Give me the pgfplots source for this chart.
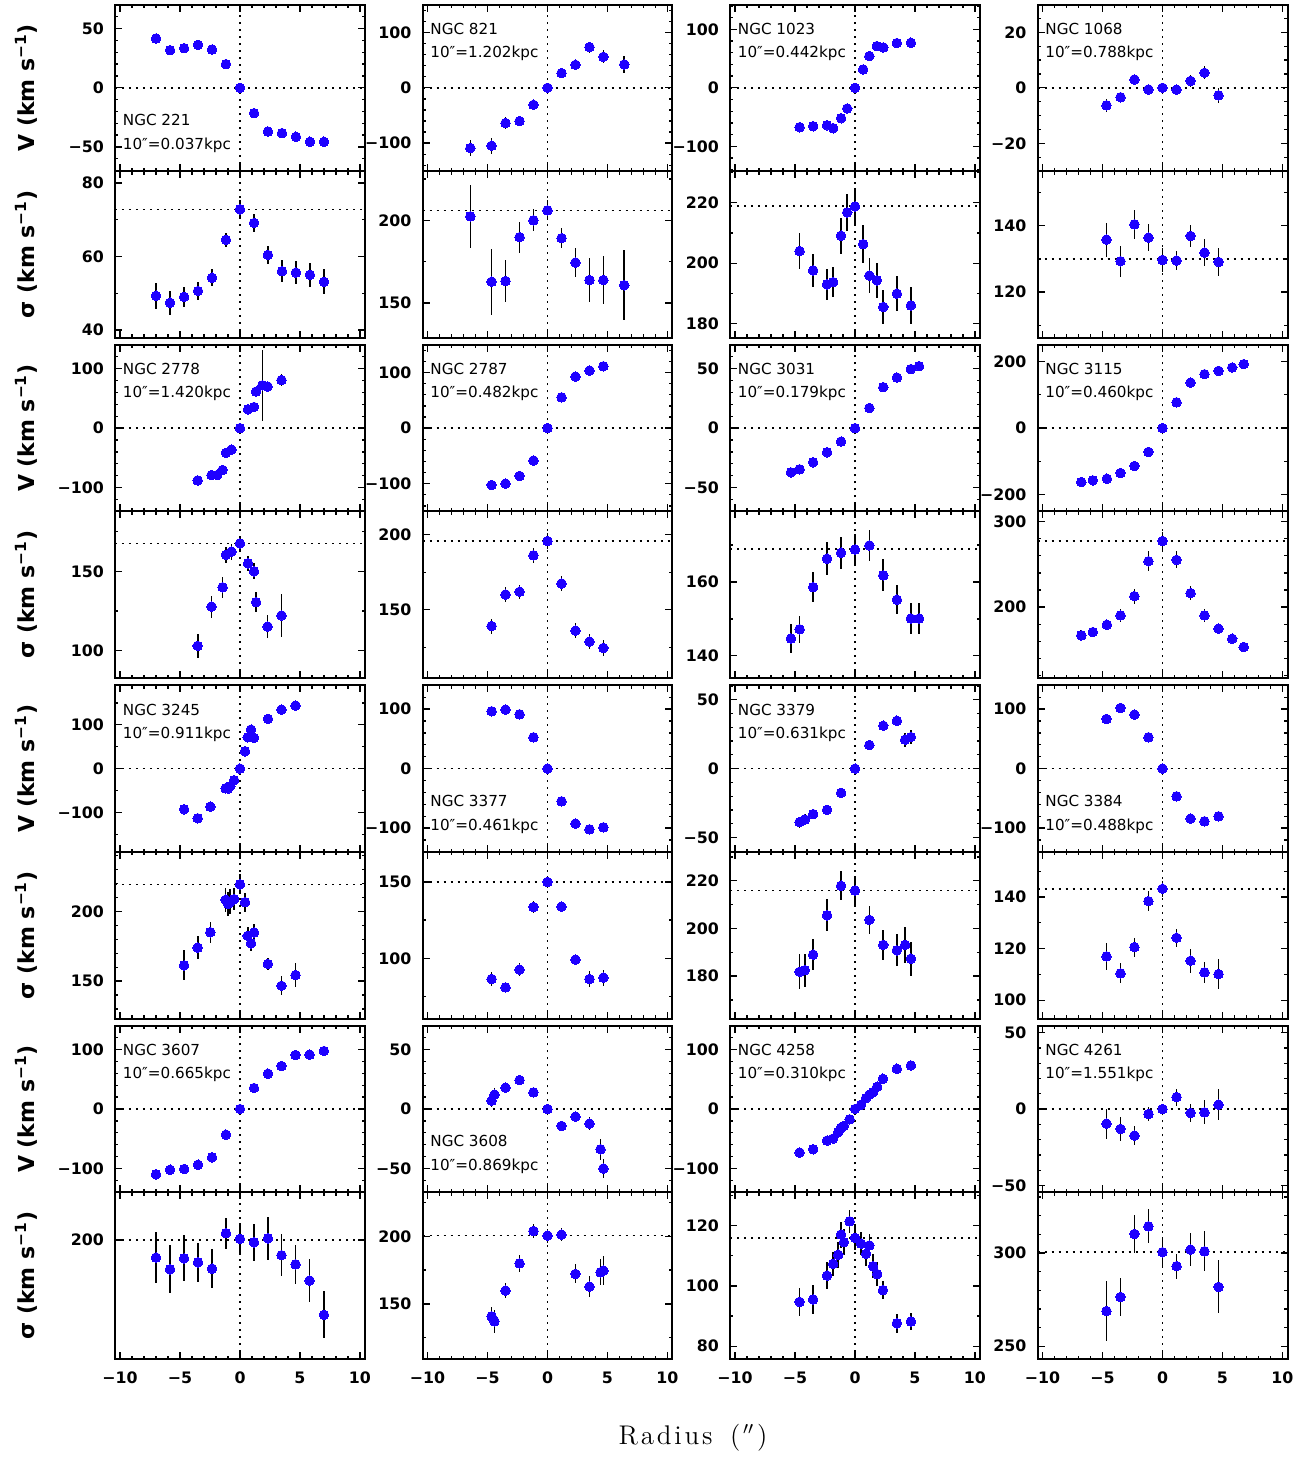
\documentclass[border=0pt]{standalone}
\usepackage{fontspec}
\setsansfont{DejaVu Sans}
\usepackage{pgfplots}
\pgfplotsset{compat=1.18}
\definecolor{dotblue}{RGB}{30,0,255}
\newcommand\tickfnt{\sffamily\bfseries\fontsize{7.9}{8}\selectfont}
\newcommand\labfnt{\sffamily\bfseries\fontsize{11}{12}\selectfont}
\newcommand\annfnt{\sffamily\fontsize{7.6}{8}\selectfont}
\pgfplotsset{
 panel/.style={scale only axis, width=125pt, height=83.3pt, anchor=north west,
  xmin=-10.42, xmax=10.42, xtick={-10,-5,0,5,10}, minor xtick={-10,-9,...,10}, xticklabels={},
  xtick pos=both, ytick pos=both, xticklabel pos=lower, yticklabel pos=left,
  tick align=inside, major tick length=3.5pt, minor tick length=1.7pt,
  axis line style={line width=1pt},
  every tick/.append style={line width=0.65pt, black},
  tick label style={font=\tickfnt},
  yticklabel style={xshift=-2pt}, xticklabel style={yshift=-3pt}},
 bottom/.style={xticklabels={−10,−5,0,5,10}},
 lefty/.style={ylabel={#1}, every axis y label/.style={at={(axis description cs:-0.356,0.5)}, rotate=90, anchor=center, font=\labfnt}},
 dots/.style={only marks, color=dotblue, mark=*, mark size=2.4pt, mark options={draw=dotblue, line width=0pt, fill=dotblue}},
 ebars/.style={draw=none, mark=none, error bars/.cd, y dir=both, y explicit, error mark=none,
  error bar style={draw=black, line width=0.85pt, solid}},
}
\tikzset{dotl/.style={black, line width=0.8pt, dash pattern=on 1pt off 2.5pt}}
\newcommand\series[1]{%
 \addplot[dots] table[row sep=\\, x index=0, y index=1] {#1};
 \addplot[ebars] table[row sep=\\, x index=0, y index=1, y error index=2] {#1};}
\newcommand\vdot{\draw[dotl] ({axis cs:0,0}|-{rel axis cs:0,0}) -- ({axis cs:0,0}|-{rel axis cs:0,1});}
\newcommand\hdot[1]{\draw[dotl] ({rel axis cs:0,0}|-{axis cs:0,#1}) -- ({rel axis cs:1,0}|-{axis cs:0,#1});}
\newcommand\labUL[2]{\node[anchor=west, inner sep=0pt, font=\annfnt] at (axis description cs:0.03,0.853) {#1};
 \node[anchor=west, inner sep=0pt, font=\annfnt] at (axis description cs:0.03,0.706) {#2};}
\newcommand\labLL[2]{\node[anchor=west, inner sep=0pt, font=\annfnt] at (axis description cs:0.03,0.306) {#1};
 \node[anchor=west, inner sep=0pt, font=\annfnt] at (axis description cs:0.03,0.156) {#2};}
\newcommand\Vlab{V (km s\textsuperscript{−1})}
\newcommand\Slab{σ (km s\textsuperscript{−1})}
\newcommand\ls{\kern1.4pt}

\begin{document}
\begin{tikzpicture}
\path[use as bounding box] (0,0) rectangle (655pt,-729pt);

% ---------------- row 1 ----------------
\begin{axis}[panel, at={(57.5pt,-2.25pt)}, ymin=-70.4, ymax=70.4, ytick={-50,0,50}, yticklabels={−50,0,50}, minor ytick={-70,-60,...,70}, lefty=\Vlab]
\vdot \hdot{0}
\series{-7 41.7 2 \\ -5.83 31.8 2 \\ -4.66 33.5 2 \\ -3.5 36.3 2 \\ -2.33 32.4 2 \\ -1.17 20.0 2 \\ 0 0 2 \\ 1.17 -21.4 2 \\ 2.33 -36.9 2 \\ 3.5 -38.3 2 \\ 4.66 -41.4 2 \\ 5.83 -45.6 2 \\ 7 -45.6 2 \\}
\labLL{NGC 221}{10″=0.037kpc}
\end{axis}
\begin{axis}[panel, at={(57.5pt,-85.55pt)}, ymin=37.9, ymax=83.2, ytick={40,60,80}, yticklabels={40,60,80}, minor ytick={40,50,...,80}, lefty=\Slab]
\vdot \hdot{72.8}
\series{-7 49.3 3.5 \\ -5.83 47.4 3.2 \\ -4.66 49.0 2.7 \\ -3.5 50.6 2.4 \\ -2.33 54.2 2.3 \\ -1.17 64.5 2.0 \\ 0 72.8 2.6 \\ 1.17 69.1 2.4 \\ 2.33 60.4 2.5 \\ 3.5 56.0 2.9 \\ 4.66 55.6 3.2 \\ 5.83 55.0 3.2 \\ 7 53.1 3.4 \\}
\end{axis}

\begin{axis}[panel, at={(211.25pt,-2.25pt)}, ymin=-150.6, ymax=150.6, ytick={-100,0,100}, yticklabels={−100,0,100}, minor ytick={-140,-120,...,140}]
\vdot \hdot{0}
\series{-6.43 -109 15 \\ -4.66 -104.8 14 \\ -3.5 -63.9 11 \\ -2.33 -60.2 8.5 \\ -1.17 -30.7 7 \\ 0 0 4 \\ 1.17 26.5 7 \\ 2.33 41.6 6.6 \\ 3.5 73.5 10 \\ 4.66 56.0 12 \\ 6.4 42.2 15.7 \\}
\labUL{NGC 821}{10″=1.202kpc}
\end{axis}
\begin{axis}[panel, at={(211.25pt,-85.55pt)}, ymin=129.1, ymax=229.7, ytick={150,200}, yticklabels={150,200}, minor ytick={125,150,...,225}]
\vdot \hdot{206}
\series{-6.43 202.4 19 \\ -4.66 162.9 20 \\ -3.5 163.3 12.5 \\ -2.33 189.8 9.3 \\ -1.17 200 6.6 \\ 0 206 6 \\ 1.17 189.2 6 \\ 2.33 174.5 8.5 \\ 3.5 163.9 13.3 \\ 4.66 163.9 14.3 \\ 6.4 160.8 21 \\}
\end{axis}

\begin{axis}[panel, at={(365pt,-2.25pt)}, ymin=-142.5, ymax=142.5, ytick={-100,0,100}, yticklabels={−100,0,100}, minor ytick={-140,-120,...,140}]
\vdot \hdot{0}
\series{-4.62 -67.4 3 \\ -3.49 -65.7 3 \\ -2.33 -64 3 \\ -1.82 -69.1 3 \\ -1.16 -52 3 \\ -0.65 -35.4 3 \\ 0 0 3 \\ 0.68 31.4 3 \\ 1.2 54.3 3 \\ 1.82 71.4 3 \\ 2.36 69.1 3 \\ 3.49 76.6 3 \\ 4.66 77.1 3 \\}
\labUL{NGC 1023}{10″=0.442kpc}
\end{axis}
\begin{axis}[panel, at={(365pt,-85.55pt)}, ymin=175.3, ymax=230.5, ytick={180,200,220}, yticklabels={180,200,220}, minor ytick={180,190,...,230}]
\vdot \hdot{218.9}
\series{-4.62 204.0 5.9 \\ -3.49 197.6 5.4 \\ -2.33 193.0 5.2 \\ -1.82 193.7 5 \\ -1.16 209.1 5.9 \\ -0.65 216.8 6.2 \\ 0 218.8 6.2 \\ 0.68 206.3 6.2 \\ 1.2 195.9 5.9 \\ 1.82 194.3 5.7 \\ 2.36 185.5 5.5 \\ 3.49 189.9 5.9 \\ 4.66 186.0 6.2 \\}
\end{axis}

\begin{axis}[panel, at={(518.75pt,-2.25pt)}, ymin=-30, ymax=30, ytick={-20,0,20}, yticklabels={−20,0,20}, minor ytick={-30,-25,...,30}]
\vdot \hdot{0}
\series{-4.67 -6.3 2.3 \\ -3.5 -3.4 2.0 \\ -2.34 3.0 1.8 \\ -1.17 -0.6 1.2 \\ 0 0 1 \\ 1.17 -0.7 1.2 \\ 2.34 2.5 2.2 \\ 3.5 5.4 2.3 \\ 4.67 -2.7 2.6 \\}
\labUL{NGC 1068}{10″=0.788kpc}
\end{axis}
\begin{axis}[panel, at={(518.75pt,-85.55pt)}, ymin=106.3, ymax=156.4, ytick={120,140}, yticklabels={120,140}, minor ytick={110,120,...,150}]
\vdot \hdot{129.9}
\series{-4.67 135.8 5.1 \\ -3.5 129.3 4.7 \\ -2.34 140.4 4.3 \\ -1.17 136.4 4 \\ 0 129.7 3.5 \\ 1.17 129.5 2.9 \\ 2.34 136.9 3.2 \\ 3.5 131.9 4 \\ 4.67 129.1 4.2 \\}
\end{axis}

% ---------------- row 2 ----------------
\begin{axis}[panel, at={(57.5pt,-172.4pt)}, ymin=-140, ymax=140, ytick={-100,0,100}, yticklabels={−100,0,100}, minor ytick={-140,-120,...,140}, lefty=\Vlab]
\vdot \hdot{0}
\series{-3.53 -87.9 4 \\ -2.37 -78.9 4 \\ -1.91 -78.9 4 \\ -1.45 -70.4 4 \\ -1.17 -41.7 4 \\ -0.71 -36.1 4 \\ 0 0 4 \\ 0.67 31.5 4 \\ 1.17 35.5 4 \\ 1.34 61.4 4 \\ 1.87 72 60 \\ 2.3 69.9 4 \\ 3.46 80.6 9.6 \\}
\labUL{NGC 2778}{10″=1.420kpc}
\end{axis}
\begin{axis}[panel, at={(57.5pt,-255.7pt)}, ymin=82.6, ymax=187.8, ytick={100,150}, yticklabels={100,150}, minor ytick={100,125,...,175}, lefty=\Slab]
\vdot \hdot{167.6}
\series{-3.53 102.9 7.6 \\ -2.37 127.7 7 \\ -1.45 139.9 6.5 \\ -1.17 160.3 4.8 \\ -0.71 162.4 5 \\ 0 167.6 4.9 \\ 0.67 155.0 4.7 \\ 1.17 150.0 5 \\ 1.34 130.5 6.4 \\ 2.3 115.1 7.4 \\ 3.46 122.1 13.7 \\}
\end{axis}

\begin{axis}[panel, at={(211.25pt,-172.4pt)}, ymin=-150, ymax=150, ytick={-100,0,100}, yticklabels={−100,0,100}, minor ytick={-140,-120,...,140}]
\vdot \hdot{0}
\series{-4.66 -102.4 3 \\ -3.5 -100 3 \\ -2.33 -86.1 3 \\ -1.17 -58.4 3 \\ 0 0 3 \\ 1.17 55.4 3 \\ 2.33 92.8 3 \\ 3.5 103.6 3 \\ 4.66 111.4 3 \\}
\labUL{NGC 2787}{10″=0.482kpc}
\end{axis}
\begin{axis}[panel, at={(211.25pt,-255.7pt)}, ymin=104.6, ymax=215.5, ytick={150,200}, yticklabels={150,200}, minor ytick={125,150,...,200}]
\vdot \hdot{196}
\series{-4.66 139.2 5 \\ -3.5 160.2 5 \\ -2.33 162.0 4.6 \\ -1.17 186.3 5 \\ 0 195.8 5.5 \\ 1.17 167.5 4.8 \\ 2.33 136.1 5 \\ 3.5 128.8 5 \\ 4.66 124.6 5.3 \\}
\end{axis}

\begin{axis}[panel, at={(365pt,-172.4pt)}, ymin=-70, ymax=70, ytick={-50,0,50}, yticklabels={−50,0,50}, minor ytick={-70,-60,...,70}]
\vdot \hdot{0}
\series{-5.34 -37.2 1.5 \\ -4.62 -34.6 1.5 \\ -3.49 -28.7 1.5 \\ -2.33 -20.3 1.5 \\ -1.16 -11.3 1.5 \\ 0 0 1.5 \\ 1.2 16.9 1.5 \\ 2.36 34.4 1.5 \\ 3.49 42.5 1.5 \\ 4.66 49.6 1.5 \\ 5.34 52.1 1.5 \\}
\labUL{NGC 3031}{10″=0.179kpc}
\end{axis}
\begin{axis}[panel, at={(365pt,-255.7pt)}, ymin=134, ymax=179.1, ytick={140,160}, yticklabels={140,160}, minor ytick={140,150,...,170}]
\vdot \hdot{168.9}
\series{-5.34 144.7 4 \\ -4.62 147.2 3.7 \\ -3.49 158.6 4.1 \\ -2.33 166.3 4.4 \\ -1.16 167.9 4.4 \\ 0 168.8 4.1 \\ 1.2 169.9 4.1 \\ 2.36 161.8 4.3 \\ 3.49 155.2 4 \\ 4.66 150.1 4.1 \\ 5.34 150.1 4.1 \\}
\end{axis}

\begin{axis}[panel, at={(518.75pt,-172.4pt)}, ymin=-250, ymax=250, ytick={-200,0,200}, yticklabels={−200,0,200}, minor ytick={-200,-100,...,200}]
\vdot \hdot{0}
\series{-6.77 -161.8 5 \\ -5.81 -156.8 5 \\ -4.64 -151.8 5 \\ -3.5 -134.7 5 \\ -2.34 -113.6 5 \\ -1.17 -71.4 5 \\ 0 0 5 \\ 1.17 77.4 5 \\ 2.34 136.7 5 \\ 3.5 161.8 5 \\ 4.67 171.9 5 \\ 5.81 181.9 5 \\ 6.77 192 5 \\}
\labUL{NGC 3115}{10″=0.460kpc}
\end{axis}
\begin{axis}[panel, at={(518.75pt,-255.7pt)}, ymin=117, ymax=312, ytick={200,300}, yticklabels={200,300}, minor ytick={120,140,...,300}]
\vdot \hdot{277.4}
\series{-6.77 166.9 5.8 \\ -5.81 170.8 5.8 \\ -4.64 179.4 5.8 \\ -3.5 190.3 8 \\ -2.34 212.8 8.7 \\ -1.17 253.7 12 \\ 0 277.4 11 \\ 1.17 255.3 10 \\ 2.34 216.3 8 \\ 3.5 190.3 8 \\ 4.67 174.7 6 \\ 5.81 163.0 6 \\ 6.77 153.3 5.8 \\}
\end{axis}

% ---------------- row 3 ----------------
\begin{axis}[panel, at={(57.5pt,-342.65pt)}, ymin=-190, ymax=190, ytick={-100,0,100}, yticklabels={−100,0,100}, minor ytick={-150,-100,...,150}, lefty=\Vlab]
\vdot \hdot{0}
\series{-4.66 -92.8 3 \\ -3.53 -113.3 3 \\ -2.47 -86.7 3 \\ -1.2 -44.9 3 \\ -0.99 -45.6 3 \\ -0.81 -40.3 3 \\ -0.49 -26.6 3 \\ 0 0 3 \\ 0.42 39.5 3 \\ 0.64 71.5 3 \\ 0.92 89.0 3 \\ 1.17 70.0 3 \\ 2.33 113.3 3 \\ 3.46 134.6 3 \\ 4.63 143.7 3 \\}
\labUL{NGC 3245}{10″=0.911kpc}
\end{axis}
\begin{axis}[panel, at={(57.5pt,-425.95pt)}, ymin=123.1, ymax=242.8, ytick={150,200}, yticklabels={150,200}, minor ytick={130,140,...,240}, lefty=\Slab]
\vdot \hdot{219.5}
\series{-4.66 161.3 10.8 \\ -3.53 174.0 8.2 \\ -2.47 185.1 7.6 \\ -1.2 208.4 8.7 \\ -0.99 205.5 8.7 \\ -0.81 207.2 8.7 \\ -0.49 208.9 7.7 \\ 0 219.5 7.2 \\ 0.42 206.7 6.9 \\ 0.64 182.5 6.6 \\ 0.92 177.2 5.6 \\ 1.17 184.9 6 \\ 2.33 162.3 4.6 \\ 3.46 146.6 6.9 \\ 4.63 154.3 8.4 \\}
\end{axis}

\begin{axis}[panel, at={(211.25pt,-342.65pt)}, ymin=-140, ymax=140, ytick={-100,0,100}, yticklabels={−100,0,100}, minor ytick={-140,-120,...,140}]
\vdot \hdot{0}
\series{-4.66 96.4 3 \\ -3.5 99.2 3 \\ -2.33 91.3 3 \\ -1.17 52.7 3 \\ 0 0 3 \\ 1.17 -54.9 3 \\ 2.33 -92.4 3 \\ 3.5 -102 3 \\ 4.66 -98.6 3 \\}
\labLL{NGC 3377}{10″=0.461kpc}
\end{axis}
\begin{axis}[panel, at={(211.25pt,-425.95pt)}, ymin=60.5, ymax=169.7, ytick={100,150}, yticklabels={100,150}, minor ytick={75,100,...,150}]
\vdot \hdot{150}
\series{-4.66 86.4 4.7 \\ -3.5 80.9 3.8 \\ -2.33 92.5 4.4 \\ -1.17 133.6 3.8 \\ 0 150 3.8 \\ 1.17 133.8 3.8 \\ 2.33 99.1 3.8 \\ 3.5 86.4 5.2 \\ 4.66 87.3 5.3 \\}
\end{axis}

\begin{axis}[panel, at={(365pt,-342.65pt)}, ymin=-60.4, ymax=60.4, ytick={-50,0,50}, yticklabels={−50,0,50}, minor ytick={-60,-50,...,60}]
\vdot \hdot{0}
\series{-4.62 -38.8 4 \\ -4.18 -36.9 4 \\ -3.49 -33 3 \\ -2.33 -29.9 3 \\ -1.16 -17.6 3 \\ 0 0 3 \\ 1.2 17.1 3 \\ 2.36 31.1 3 \\ 3.49 34.7 3 \\ 4.18 21.0 5 \\ 4.66 22.9 5.4 \\}
\labUL{NGC 3379}{10″=0.631kpc}
\end{axis}
\begin{axis}[panel, at={(365pt,-425.95pt)}, ymin=162.2, ymax=232.1, ytick={180,200,220}, yticklabels={180,200,220}, minor ytick={170,180,...,230}]
\vdot \hdot{215.9}
\series{-4.62 181.8 7.4 \\ -4.18 182.5 6.9 \\ -3.49 189.0 6.5 \\ -2.33 205.5 6.7 \\ -1.16 217.9 6 \\ 0 215.9 6.1 \\ 1.2 203.6 5.8 \\ 2.36 193.1 6.2 \\ 3.49 190.8 6.7 \\ 4.18 193.1 7.7 \\ 4.66 187.3 7.2 \\}
\end{axis}

\begin{axis}[panel, at={(518.75pt,-342.65pt)}, ymin=-140, ymax=140, ytick={-100,0,100}, yticklabels={−100,0,100}, minor ytick={-140,-120,...,140}]
\vdot \hdot{0}
\series{-4.67 83.5 3 \\ -3.5 102 3 \\ -2.34 90.8 3 \\ -1.17 52.7 3 \\ 0 0 3 \\ 1.17 -46.5 3 \\ 2.34 -84 3 \\ 3.5 -88.5 3 \\ 4.67 -80.1 3 \\}
\labLL{NGC 3384}{10″=0.488kpc}
\end{axis}
\begin{axis}[panel, at={(518.75pt,-425.95pt)}, ymin=92.9, ymax=157.5, ytick={100,120,140}, yticklabels={100,120,140}, minor ytick={100,110,...,150}]
\vdot \hdot{143.2}
\series{-4.67 117.0 5.3 \\ -3.5 110.4 3.9 \\ -2.34 120.6 3.7 \\ -1.17 138.4 3.9 \\ 0 143.2 3.1 \\ 1.17 124.2 3.6 \\ 2.34 115.3 4.7 \\ 3.5 110.8 4.2 \\ 4.67 110.1 5.8 \\}
\end{axis}

% ---------------- row 4 ----------------
\begin{axis}[panel, at={(57.5pt,-512.85pt)}, ymin=-140, ymax=140, ytick={-100,0,100}, yticklabels={−100,0,100}, minor ytick={-140,-120,...,140}, lefty=\Vlab]
\vdot \hdot{0}
\series{-7 -109.8 6 \\ -5.83 -102 4 \\ -4.66 -100.8 4 \\ -3.5 -93.6 4 \\ -2.33 -81.2 4 \\ -1.17 -43.1 4 \\ 0 0 4 \\ 1.17 35.3 4 \\ 2.33 59.4 4 \\ 3.46 72.3 4 \\ 4.63 90.8 4 \\ 5.8 91.3 4 \\ 7 97.5 6 \\}
\labUL{NGC 3607}{10″=0.665kpc}
\end{axis}
\begin{axis}[panel, bottom, at={(57.5pt,-596.15pt)}, ymin=140, ymax=224, ytick={200}, yticklabels={200}, lefty=\Slab]
\vdot \hdot{200}
\series{-7 191.1 13 \\ -5.83 185.2 12.2 \\ -4.66 190.7 11.6 \\ -3.5 188.7 9.7 \\ -2.33 185.5 9.8 \\ -1.17 203.4 7.8 \\ 0 200.5 8.2 \\ 1.17 198.8 9.3 \\ 2.33 200.8 10.7 \\ 3.46 192.3 10.5 \\ 4.63 187.7 9.9 \\ 5.8 179.5 10.8 \\ 7 162.2 11.8 \\}
\end{axis}

\begin{axis}[panel, at={(211.25pt,-512.85pt)}, ymin=-70, ymax=70, ytick={-50,0,50}, yticklabels={−50,0,50}, minor ytick={-70,-60,...,70}]
\vdot \hdot{0}
\series{-4.66 7.0 5.6 \\ -4.42 12.0 5.6 \\ -3.5 17.9 4 \\ -2.33 24.3 4 \\ -1.17 14.0 3 \\ 0 0 3 \\ 1.17 -14.2 3 \\ 2.33 -6.4 3.5 \\ 3.5 -12.3 5.2 \\ 4.42 -33.8 8.7 \\ 4.66 -50 8 \\}
\labLL{NGC 3608}{10″=0.869kpc}
\end{axis}
\begin{axis}[panel, bottom, at={(211.25pt,-596.15pt)}, ymin=109.4, ymax=232.5, ytick={150,200}, yticklabels={150,200}, minor ytick={125,150,...,225}]
\vdot \hdot{200.5}
\series{-4.66 140.9 7 \\ -4.42 137.2 8.3 \\ -3.5 159.9 5.5 \\ -2.33 180.0 6.5 \\ -1.17 203.9 5.4 \\ 0 200.5 5.2 \\ 1.17 201.2 4.9 \\ 2.33 172.2 7 \\ 3.5 162.8 8 \\ 4.42 173.4 9.5 \\ 4.66 174.6 10.5 \\}
\end{axis}

\begin{axis}[panel, at={(365pt,-512.85pt)}, ymin=-140, ymax=140, ytick={-100,0,100}, yticklabels={−100,0,100}, minor ytick={-140,-120,...,140}]
\vdot \hdot{0}
\series{-4.62 -73.2 2 \\ -3.49 -67.6 2 \\ -2.33 -53.1 2 \\ -1.82 -49.7 2 \\ -1.4 -39.1 2 \\ -1.16 -31.3 2 \\ -0.92 -28.5 2 \\ -0.45 -17.3 2 \\ 0 0 2 \\ 0.51 7.3 2 \\ 0.92 18.4 2 \\ 1.2 24 2 \\ 1.51 28.5 2 \\ 1.85 37.4 2 \\ 2.33 50.8 2 \\ 3.49 67.6 2 \\ 4.66 73.2 2 \\}
\labUL{NGC 4258}{10″=0.310kpc}
\end{axis}
\begin{axis}[panel, bottom, at={(365pt,-596.15pt)}, ymin=75.8, ymax=131, ytick={80,100,120}, yticklabels={80,100,120}, minor ytick={80,90,...,130}]
\vdot \hdot{115.9}
\series{-4.62 94.7 4.6 \\ -3.49 95.5 4.7 \\ -2.33 103.4 4.4 \\ -1.82 107.3 4 \\ -1.4 110.3 4.4 \\ -1.16 117.0 4.3 \\ -0.92 114.5 4.3 \\ -0.45 121.4 3.9 \\ 0 115.9 4.1 \\ 0.51 114.0 3.9 \\ 0.92 110.6 4 \\ 1.2 113.4 3.9 \\ 1.51 106.5 3.9 \\ 1.85 103.9 4.1 \\ 2.33 98.6 3 \\ 3.49 87.6 3.1 \\ 4.66 88.2 2.9 \\}
\end{axis}

\begin{axis}[panel, at={(518.75pt,-512.85pt)}, ymin=-54.5, ymax=54.5, ytick={-50,0,50}, yticklabels={−50,0,50}, minor ytick={-50,-40,...,50}]
\vdot \hdot{0}
\series{-4.67 -9.6 9.8 \\ -3.5 -13.0 7.9 \\ -2.34 -17.4 6.3 \\ -1.17 -3.3 4.3 \\ 0 0 3.3 \\ 1.17 7.8 5.5 \\ 2.34 -2.6 6 \\ 3.5 -2.2 7.9 \\ 4.67 2.8 10.2 \\}
\labUL{NGC 4261}{10″=1.551kpc}
\end{axis}
\begin{axis}[panel, bottom, at={(518.75pt,-596.15pt)}, ymin=243.2, ymax=332.5, ytick={250,300}, yticklabels={250,300}, minor ytick={250,260,...,330}]
\vdot \hdot{300.4}
\series{-4.67 268.8 16 \\ -3.5 276.4 10.3 \\ -2.34 310.2 10.3 \\ -1.17 314.3 9.1 \\ 0 300.4 8 \\ 1.17 292.9 6.7 \\ 2.34 301.8 8.9 \\ 3.5 300.9 10.6 \\ 4.67 281.8 14.2 \\}
\end{axis}

\node[font=\rmfamily\fontsize{13.5}{14}\selectfont] at (346.5pt,-719pt) {R\ls a\ls d\ls i\ls u\ls s\ \ (\ls$''$\ls)};
\end{tikzpicture}
\end{document}
